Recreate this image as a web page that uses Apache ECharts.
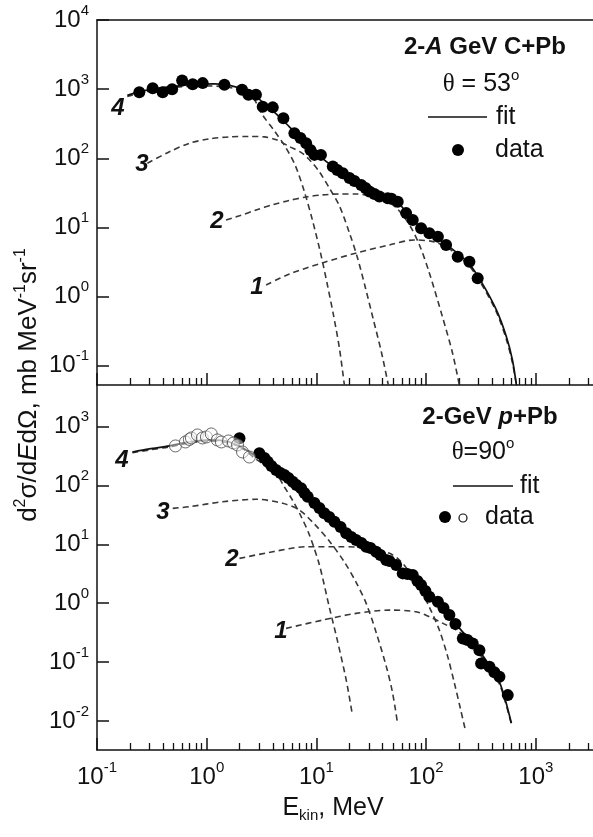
<!DOCTYPE html>
<html><head><meta charset="utf-8">
<script src="https://cdn.jsdelivr.net/npm/echarts@6/dist/echarts.min.js"></script>
<style>html,body{margin:0;padding:0;background:#fff}#c{width:593px;height:837px}</style>
</head><body><div id="c"></div><script>
// ---------- axis ticks ----------
const xMajorTicks = [0.1, 1, 10, 100, 1000];
const xMinorTicks = [0.2,0.3,0.4,0.5,0.6,0.7,0.8,0.9, 2,3,4,5,6,7,8,9, 20,30,40,50,60,70,80,90, 200,300,400,500,600,700,800,900, 2000,3000];
const yTopTicks = [0.1, 1, 10, 100, 1000, 10000];
const yBotTicks = [0.01, 0.1, 1, 10, 100, 1000];

// ---------- top panel: 2-A GeV C+Pb, theta = 53 ----------
const topData = [[0.243,905],[0.322,1034],[0.397,905],[0.484,1000],[0.597,1332],[0.745,1181],[0.919,1222],[1.45,1162],[2.10,977],[2.40,827],[2.81,827],[3.24,555],[4.00,545],[5.00,380],[6.30,231],[7.15,197],[8.06,165],[8.82,132],[9.59,112],[11.0,112],[14.1,75.9],[15.5,67.9],[17.4,60.9],[20.0,52.0],[22.2,47.1],[25.6,41.2],[28.0,37.3],[30.4,33.2],[33.8,30.5],[37.5,28.1],[44.7,26.5],[48.3,25.9],[55.1,23.6],[65.7,16.1],[75.5,12.8],[90.0,9.73],[107,8.24],[128,7.36],[152,5.58],[194,3.78],[248,3.20],[295,1.84]];
const topFit = [[0.189,813],[0.243,914],[0.334,1010],[0.508,1098],[0.772,1174],[1.18,1193],[1.61,1135],[2.21,977],[2.90,748],[3.73,536],[4.60,397],[5.67,285],[7.00,204],[8.64,146],[10.65,108],[13.1,83.0],[16.2,65.7],[20.0,52.9],[24.7,43.4],[30.4,34.9],[37.5,29.5],[46.3,25.9],[54.7,23.4],[63.4,17.9],[73.5,13.7],[86.9,10.5],[107,8.33],[132,6.70],[163,5.22],[201,4.00],[248,2.96],[319,1.63],[437,0.640],[540,0.260],[612,0.121],[666,0.052]];
const topC4 = [[0.189,781],[0.300,945],[0.508,1062],[0.858,1116],[1.31,1098],[1.79,1027],[2.21,914],[2.72,700],[3.22,425],[4.14,249],[5.22,146],[6.44,77.6],[7.78,32.6],[9.19,12.8],[10.9,4.28],[12.6,1.47],[14.3,0.542],[16.2,0.180],[18.0,0.052]];
const topC3 = [[0.288,84.9],[0.457,124],[0.695,165],[1.06,191],[1.61,204],[2.45,207],[3.36,204],[4.32,185],[5.67,148],[7.46,118],[9.00,88.7],[10.65,63.6],[13.1,37.3],[16.2,20.5],[20.0,8.33],[23.7,3.62],[28.0,1.33],[33.1,0.459],[39.1,0.158],[45.3,0.052]];
const topC2 = [[1.50,12.8],[1.99,14.7],[2.82,17.9],[3.97,21.2],[5.67,24.6],[8.11,27.6],[11.3,29.5],[16.2,30.5],[23.2,30.5],[31.7,28.6],[41.7,25.0],[53.6,19.2],[70.4,10.9],[86.9,5.58],[107,2.20],[141,0.507],[174,0.153],[201,0.052]];
const topC1 = [[3.48,1.47],[5.67,2.12],[11.3,3.06],[23.2,4.28],[46.3,5.58],[78.2,6.59],[119,6.17],[163,4.89],[201,3.74],[248,2.77],[319,1.52],[437,0.599],[540,0.238],[612,0.110],[666,0.052]];

// ---------- bottom panel: 2-GeV p+Pb, theta = 90 ----------
const botOpen = [[0.519,470],[0.640,549],[0.695,606],[0.725,642],[0.823,722],[0.914,642],[0.994,668],[1.10,751],[1.25,594],[1.36,549],[1.58,571],[1.75,528],[1.91,488],[2.12,371],[2.45,305]];
const botFilled = [[1.99,635],[3.02,353],[3.36,294],[3.60,254],[3.89,215],[4.29,183],[4.70,163],[5.11,151],[5.56,134],[6.08,116],[6.57,102],[7.25,89.6],[7.78,74.6],[8.33,64.5],[9.59,50.4],[10.65,41.4],[11.8,33.7],[13.1,29.1],[14.6,24.2],[16.6,19.7],[18.7,15.4],[20.8,13.3],[23.0,11.8],[25.7,10.5],[28.4,9.10],[31.1,8.65],[35.0,7.48],[38.3,6.58],[43.2,5.41],[46.3,5.20],[53.3,4.45],[61.2,3.21],[67.5,3.13],[75.5,3.01],[83.3,2.38],[90.0,2.03],[98.5,1.61],[107,1.29],[128,1.06],[144,0.826],[163,0.628],[185,0.441],[216,0.252],[238,0.236],[266,0.207],[306,0.159],[317,0.0947],[378,0.0829],[419,0.0673],[466,0.0560],[555,0.0274]];
const botFit = [[0.210,371],[0.300,418],[0.457,470],[0.695,549],[1.06,594],[1.61,549],[2.21,418],[2.72,330],[3.36,271],[4.60,163],[6.30,110],[8.64,63.7],[11.8,35.4],[16.2,21.3],[22.2,12.8],[30.4,8.65],[41.7,6.08],[57.1,3.95],[78.2,2.67],[107,1.43],[147,0.858],[201,0.377],[276,0.194],[378,0.0886],[466,0.0455],[528,0.0225],[599,0.00914]];
const botC4 = [[0.210,360],[0.300,402],[0.457,452],[0.695,528],[1.06,571],[1.61,528],[2.21,402],[2.72,294],[3.36,223],[4.32,157],[5.11,94.3],[6.04,56.7],[7.15,31.5],[8.64,14.4],[10.65,4.45],[13.1,0.858],[15.5,0.236],[18.7,0.0492],[21.3,0.0125]];
const botC3 = [[0.49,40.9],[0.695,43.6],[1.40,53.0],[2.82,58.3],[4.93,49.8],[7.00,38.3],[9.59,22.1],[13.1,11.4],[18.0,5.00],[23.2,2.20],[28.6,0.965],[35.2,0.310],[43.5,0.0819],[49.3,0.0308],[54.7,0.0095]];
const botC2 = [[1.99,5.78],[4.00,7.48],[8.06,9.10],[16.2,9.10],[23.0,9.0],[33.8,8.00],[46.3,7.03],[57.1,5.41],[70.4,3.38],[86.9,1.81],[107,0.858],[132,0.349],[156,0.131],[181,0.0438],[205,0.0164],[228,0.00695]];
const botC1 = [[5.29,0.373],[11.4,0.516],[23.0,0.671],[46.3,0.763],[81.1,0.714],[107,0.587],[147,0.441],[201,0.323],[276,0.172],[378,0.0819],[466,0.0421],[528,0.0208],[599,0.00879]];

// ---------- chart ----------
const FONT = 'Liberation Sans, Arial, sans-serif';
const INK = '#111';
const X_MIN = 0.1, X_MAX = 3320;
const chart = echarts.init(document.getElementById('c'), null, {renderer: 'canvas'});

function expLabel(v) {
  const e = Math.round(Math.log10(v));
  return '{b|10}{s|' + e + '}';
}
const richTick = {
  b: {fontSize: 24, fontFamily: FONT, color: INK, lineHeight: 34},
  s: {fontSize: 15, fontFamily: FONT, color: INK, lineHeight: 14, verticalAlign: 'top'}
};

function xAxisMajor(grid, withLabels) {
  return {
    type: 'log', gridIndex: grid, min: X_MIN, max: X_MAX, position: 'bottom',
    axisLine: {show: true, lineStyle: {color: INK, width: 1.5}},
    axisTick: {show: true, inside: true, length: 12, customValues: xMajorTicks, lineStyle: {color: INK, width: 1.5}},
    axisLabel: withLabels ? {show: true, customValues: xMajorTicks, formatter: expLabel, rich: richTick, margin: 10} : {show: false},
    splitLine: {show: false}, minorTick: {show: false}
  };
}
function xAxisMinor(grid) {
  return {
    type: 'log', gridIndex: grid, min: X_MIN, max: X_MAX, position: 'bottom',
    axisLine: {show: false},
    axisTick: {show: true, inside: true, length: 7, customValues: xMinorTicks, lineStyle: {color: INK, width: 1.3}},
    axisLabel: {show: false}, splitLine: {show: false}
  };
}
function xAxisTopLine(grid) {
  return {
    type: 'log', gridIndex: grid, min: X_MIN, max: X_MAX, position: 'top',
    axisLine: {show: true, lineStyle: {color: INK, width: 1.5}},
    axisTick: {show: false}, axisLabel: {show: false}, splitLine: {show: false}
  };
}
function yAxis(grid, min, max, ticks) {
  return {
    type: 'log', gridIndex: grid, min: min, max: max,
    axisLine: {show: true, lineStyle: {color: INK, width: 1.5}},
    axisTick: {show: true, inside: true, length: 12, customValues: ticks, lineStyle: {color: INK, width: 1.5}},
    axisLabel: {show: true, customValues: ticks, formatter: expLabel, rich: richTick, margin: 8},
    splitLine: {show: false}
  };
}
function dashed(data, xi, yi) {
  return {type: 'line', data: data, xAxisIndex: xi, yAxisIndex: yi, showSymbol: false, symbol: 'none', smooth: 0.3,
    lineStyle: {color: '#383838', width: 1.6, type: [6, 4]}, z: 2, silent: true};
}
function fit(data, xi, yi) {
  return {type: 'line', data: data, xAxisIndex: xi, yAxisIndex: yi, showSymbol: false, symbol: 'none', smooth: 0.3,
    lineStyle: {color: INK, width: 1.7}, z: 3, silent: true};
}
function filled(data, xi, yi) {
  return {type: 'scatter', data: data, xAxisIndex: xi, yAxisIndex: yi, symbol: 'circle', symbolSize: 12,
    itemStyle: {color: '#000', opacity: 1}, z: 5, silent: true};
}

function txt(x, y, text, rich, extra) {
  return {type: 'text', x: x, y: y, z: 100,
    style: Object.assign({text: text, align: 'center', verticalAlign: 'middle', fill: INK, fontFamily: FONT, fontSize: 25, rich: rich || {}}, extra || {})};
}
const curveLbl = {fontFamily: FONT, fontSize: 24, fontWeight: 'bold', fontStyle: 'italic'};
const graphics = [
  // top annotations
  txt(485, 47, '{a|2-}{i|A}{a| GeV C+Pb}', {
    a: {fontFamily: FONT, fontSize: 24, fontWeight: 'bold', fill: INK},
    i: {fontFamily: FONT, fontSize: 24, fontWeight: 'bold', fontStyle: 'italic', fill: INK}}),
  txt(481, 84, '{t|θ}{a| = 53}{s|o}', {
    t: {fontFamily: 'Liberation Serif, DejaVu Serif, serif', fontSize: 25, fill: INK, lineHeight: 32},
    a: {fontFamily: FONT, fontSize: 25, fill: INK, lineHeight: 32},
    s: {fontFamily: FONT, fontSize: 15, fill: INK, lineHeight: 14, verticalAlign: 'top'}}),
  {type: 'line', z: 100, shape: {x1: 428, y1: 117, x2: 487, y2: 117}, style: {stroke: INK, lineWidth: 1.7}},
  txt(496, 117, 'fit', null, {align: 'left'}),
  {type: 'circle', z: 100, shape: {cx: 458, cy: 150, r: 6}, style: {fill: '#000'}},
  txt(495, 150, 'data', null, {align: 'left'}),
  // bottom annotations
  txt(490, 417, '{a|2-GeV }{i|p}{a|+Pb}', {
    a: {fontFamily: FONT, fontSize: 24, fontWeight: 'bold', fill: INK},
    i: {fontFamily: FONT, fontSize: 24, fontWeight: 'bold', fontStyle: 'italic', fill: INK}}),
  txt(483, 452, '{t|θ}{a|=90}{s|o}', {
    t: {fontFamily: 'Liberation Serif, DejaVu Serif, serif', fontSize: 25, fill: INK, lineHeight: 32},
    a: {fontFamily: FONT, fontSize: 25, fill: INK, lineHeight: 32},
    s: {fontFamily: FONT, fontSize: 15, fill: INK, lineHeight: 14, verticalAlign: 'top'}}),
  {type: 'line', z: 100, shape: {x1: 453, y1: 486, x2: 513, y2: 486}, style: {stroke: INK, lineWidth: 1.7}},
  txt(520, 486, 'fit', null, {align: 'left'}),
  {type: 'circle', z: 100, shape: {cx: 445, cy: 517, r: 6}, style: {fill: '#000'}},
  {type: 'circle', z: 100, shape: {cx: 463, cy: 518, r: 4}, style: {fill: '#fff', stroke: INK, lineWidth: 1.2}},
  txt(485, 517, 'data', null, {align: 'left'}),
  // curve numbers
  txt(118, 108, '4', null, curveLbl), txt(142, 164, '3', null, curveLbl),
  txt(217, 221, '2', null, curveLbl), txt(257, 287, '1', null, curveLbl),
  txt(122, 460, '4', null, curveLbl), txt(163, 512, '3', null, curveLbl),
  txt(232, 559, '2', null, curveLbl), txt(281, 631, '1', null, curveLbl),
  // axis titles
  txt(333, 808, '{a|E}{u|kin}{a|, MeV}', {
    a: {fontFamily: FONT, fontSize: 25, fill: INK, lineHeight: 30},
    u: {fontFamily: FONT, fontSize: 15, fill: INK, lineHeight: 14, verticalAlign: 'bottom'}}),
  Object.assign(txt(29, 385, '{a|d}{s|2}{a|σ/d}{i|E}{a|dΩ, mb MeV}{s|-1}{a|sr}{s|-1}', {
    a: {fontFamily: FONT, fontSize: 26, fill: INK, lineHeight: 32},
    i: {fontFamily: FONT, fontSize: 26, fontStyle: 'italic', fill: INK, lineHeight: 32},
    s: {fontFamily: FONT, fontSize: 16, fill: INK, lineHeight: 14, verticalAlign: 'top'}}), {rotation: Math.PI / 2})
];

const option = {
  animation: false,
  backgroundColor: '#fff',
  grid: [
    {left: 97, top: 20, width: 496, height: 365, show: false},
    {left: 97, top: 385, width: 496, height: 365, show: false}
  ],
  xAxis: [xAxisMajor(0, false), xAxisMinor(0), xAxisMajor(1, true), xAxisMinor(1), xAxisTopLine(0)],
  yAxis: [yAxis(0, 0.0526, 10000, yTopTicks), yAxis(1, 0.0032, 5100, yBotTicks)],
  series: [
    dashed(topC4, 0, 0), dashed(topC3, 0, 0), dashed(topC2, 0, 0), dashed(topC1, 0, 0),
    fit(topFit, 0, 0), filled(topData, 0, 0),
    dashed(botC4, 2, 1), dashed(botC3, 2, 1), dashed(botC2, 2, 1), dashed(botC1, 2, 1),
    fit(botFit, 2, 1),
    {type: 'scatter', data: botOpen, xAxisIndex: 2, yAxisIndex: 1, symbol: 'circle', symbolSize: 12,
      itemStyle: {color: 'rgba(255,255,255,0.55)', borderColor: '#444', borderWidth: 1}, z: 6, silent: true},
    filled(botFilled, 2, 1)
  ],
  graphic: graphics
};
chart.setOption(option);
</script></body></html>
